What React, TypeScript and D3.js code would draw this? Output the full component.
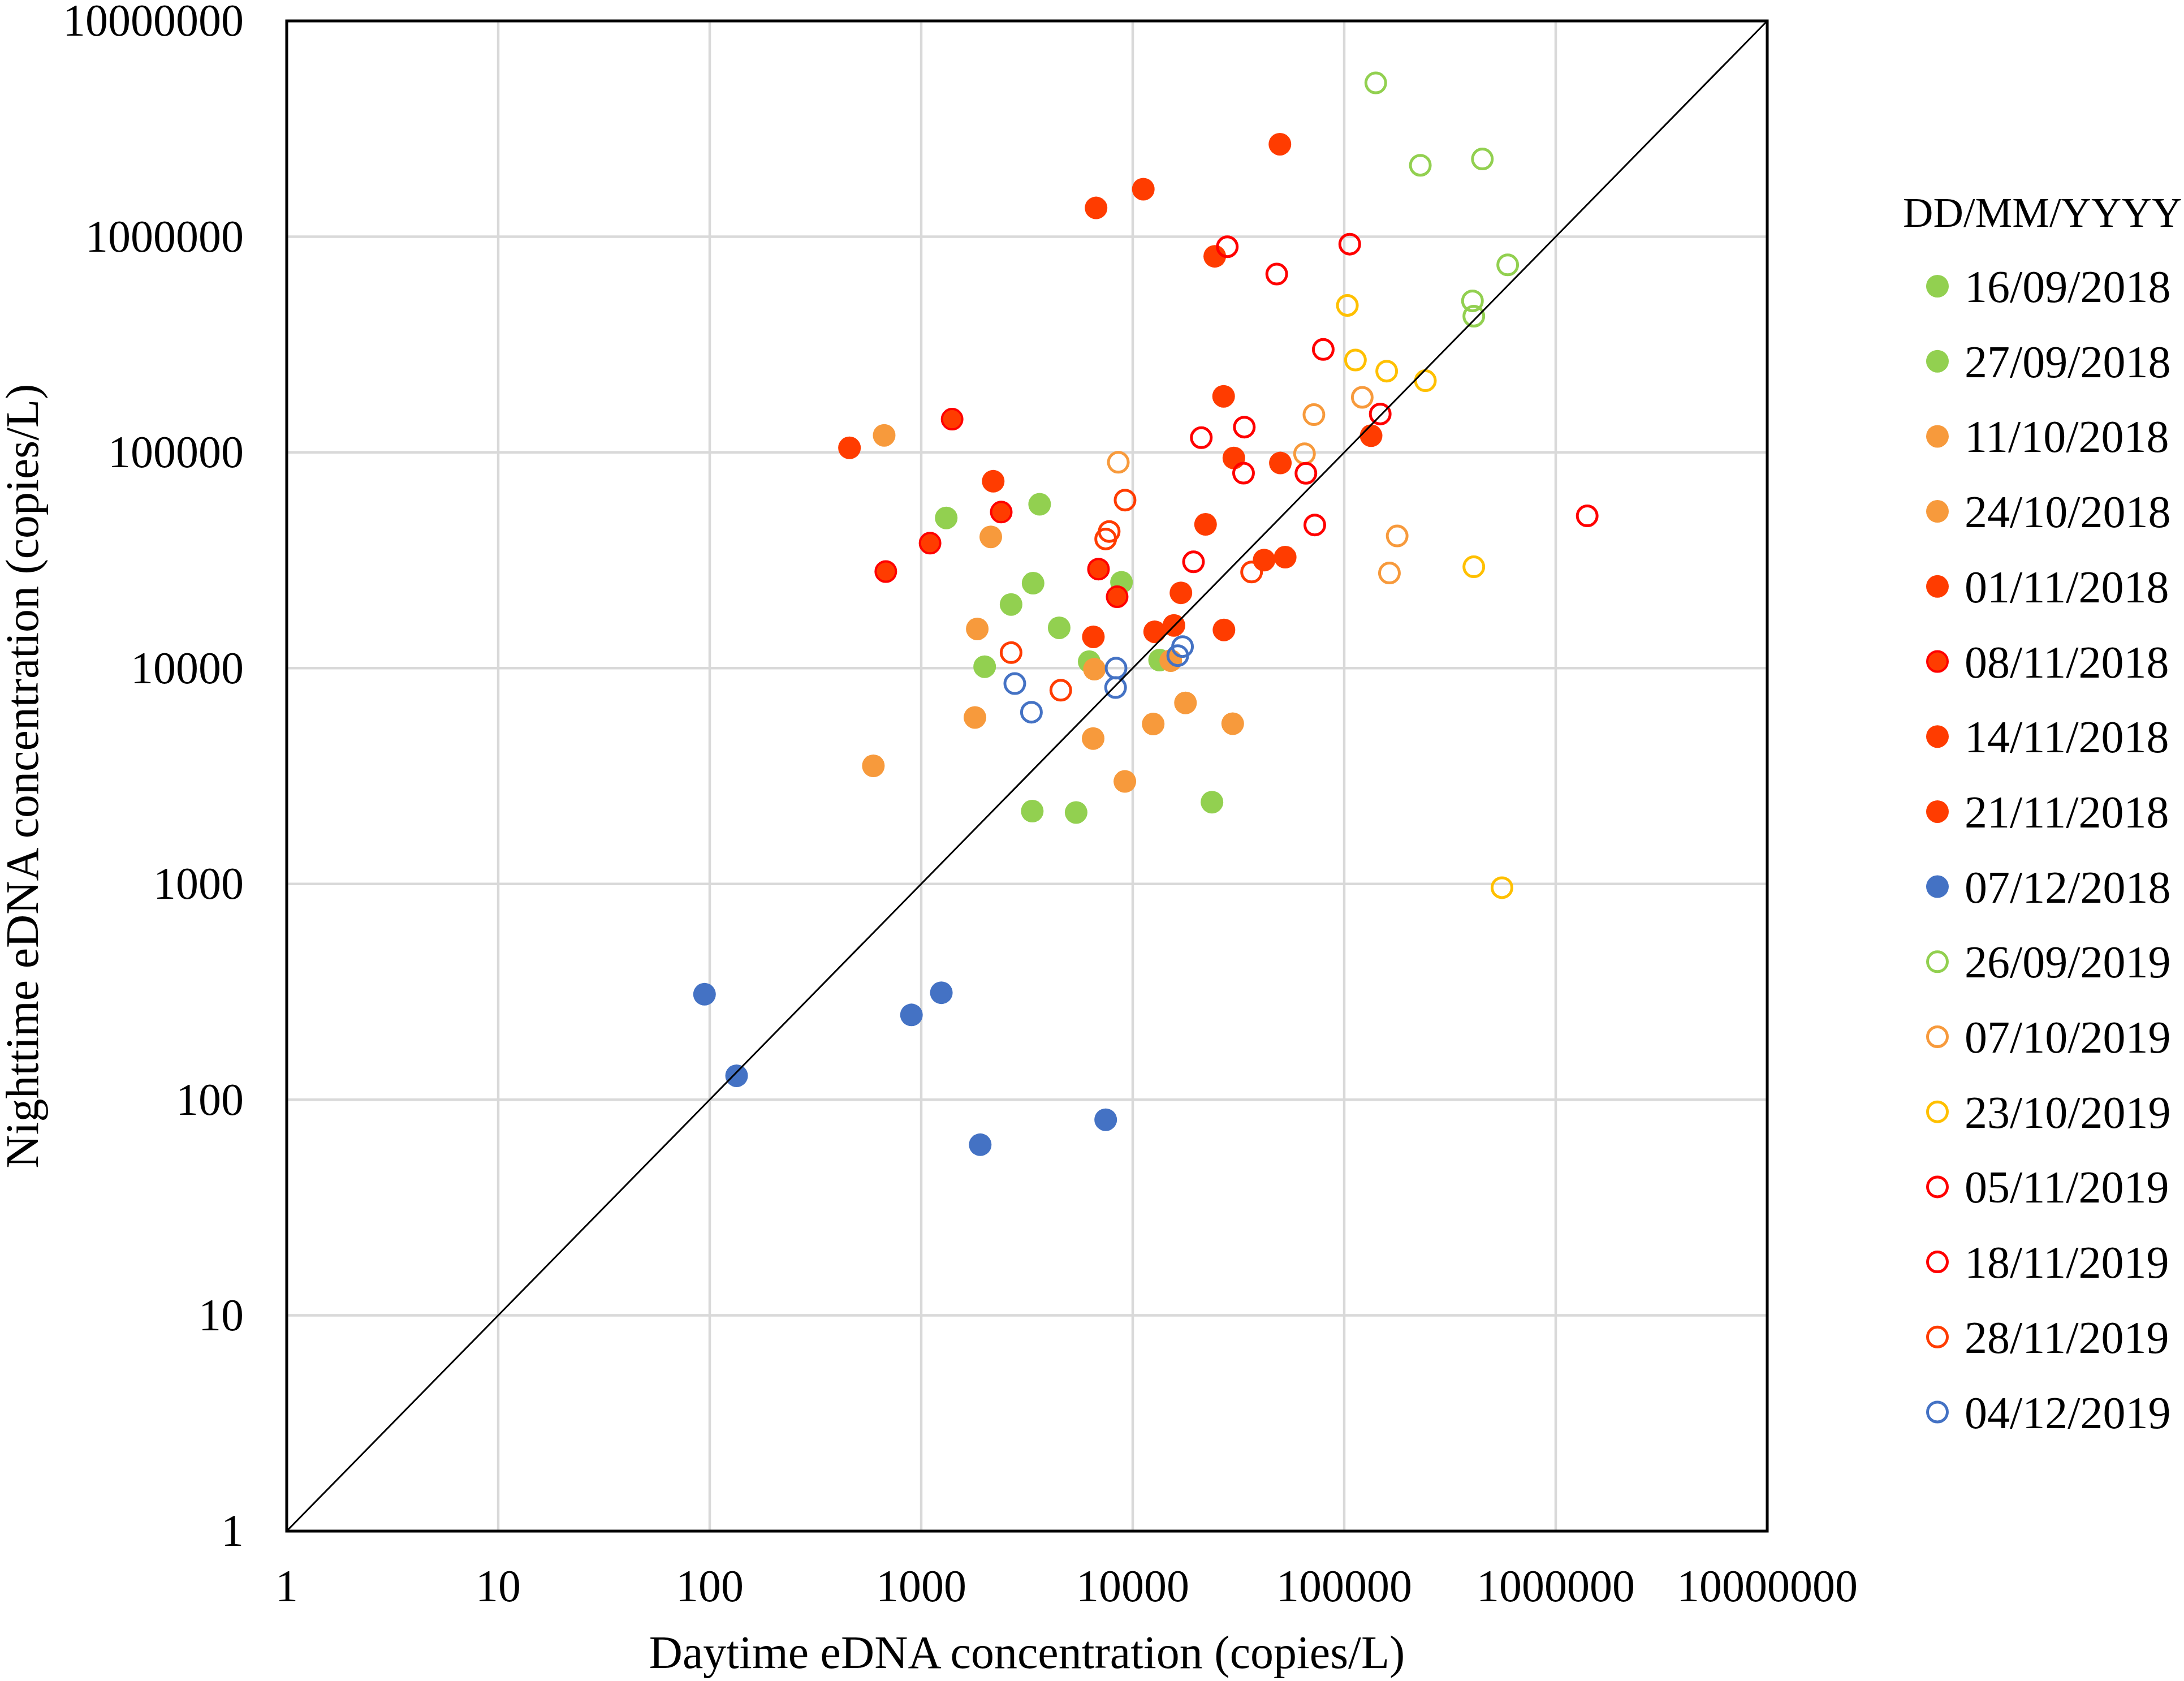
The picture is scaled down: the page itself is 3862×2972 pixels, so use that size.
import React from "react";
import * as d3 from "d3";

// ---------- DATA (daytime, nighttime) copies/L ----------
const legendTitle = "DD/MM/YYYY";
const tickValues = [1, 10, 100, 1000, 10000, 100000, 1000000, 10000000];

const d20180916: [number, number][] = [
  [3630, 57500], [1313, 49700], [3380, 24770], [2660, 19730], [8850, 25000], [4490, 15380],
];
const d20180927: [number, number][] = [
  [13400, 10900], [1995, 10160], [6226, 10720], [3350, 2174], [5400, 2143], [23700, 2393],
];
const d20181011: [number, number][] = [
  [668, 120000], [2133, 40600], [1841, 15200], [6590, 9890], [15130, 10840], [17760, 6900],
];
const d20181024: [number, number][] = [
  [1795, 5910], [594, 3525], [6500, 4720], [12500, 5510], [29700, 5530], [9180, 2985],
];
const d20181101: [number, number][] = [
  [458, 105000], [2190, 73500], [6516, 13970], [12700, 14750], [15660, 15780], [27000, 15040],
];
const d20181108: [number, number][] = [
  [1400, 142600], [2390, 52900], [1101, 37950], [680, 28040], [6890, 28770], [8440, 21430],
];
const d20181114: [number, number][] = [
  [16900, 22340], [22100, 46400], [41800, 31700], [52600, 32700], [30070, 94200], [49900, 89300],
];
const d20181121: [number, number][] = [
  [26900, 182000], [134000, 119500], [24430, 811000], [6710, 1359000], [11220, 1660000], [49650, 2683000],
];
const d20181207: [number, number][] = [
  [94.5, 308], [134, 129], [899, 247], [1245, 313], [1901, 61.8], [7450, 80.7],
];
const d20190926: [number, number][] = [
  [141000, 5160000], [229000, 2142000], [450000, 2291000], [593000, 740000], [404000, 504000], [410000, 428000],
];
const d20191007: [number, number][] = [
  [8550, 90000], [71900, 149700], [121700, 180000], [64900, 98600], [178000, 41000], [163600, 27600],
];
const d20191023: [number, number][] = [
  [103500, 480000], [113000, 268000], [158800, 238000], [242000, 215000], [410000, 29500], [557000, 960],
];
const d20191105: [number, number][] = [
  [28000, 898000], [106200, 923000], [47970, 671000], [79600, 300000], [33700, 131000], [21100, 117000],
];
const d20191118: [number, number][] = [
  [148000, 150700], [33420, 80100], [65900, 80000], [72600, 46100], [19380, 31100], [1409000, 50800],
];
const d20191128: [number, number][] = [
  [9200, 60100], [7740, 43000], [7450, 39700], [2660, 11800], [4570, 7900], [36480, 27900],
];
const d20191204: [number, number][] = [
  [8340, 10000], [8300, 8130], [2770, 8480], [3320, 6250], [17200, 12590], [16330, 11430],
];

// ---------- STYLE ----------
const GREEN = "#92D050";
const ORANGE = "#F79A3C";
const REDORANGE = "#FF3C00";
const RED = "#FF0000";
const BLUE = "#4472C4";
const YELLOW = "#FFC000";

type Series = { label: string; data: [number, number][]; fill: string; stroke: string; open: boolean };

const series: Series[] = [
  { label: "16/09/2018", data: d20180916, fill: GREEN, stroke: "none", open: false },
  { label: "27/09/2018", data: d20180927, fill: GREEN, stroke: "none", open: false },
  { label: "11/10/2018", data: d20181011, fill: ORANGE, stroke: "none", open: false },
  { label: "24/10/2018", data: d20181024, fill: ORANGE, stroke: "none", open: false },
  { label: "01/11/2018", data: d20181101, fill: REDORANGE, stroke: "none", open: false },
  { label: "08/11/2018", data: d20181108, fill: REDORANGE, stroke: RED, open: false },
  { label: "14/11/2018", data: d20181114, fill: REDORANGE, stroke: "none", open: false },
  { label: "21/11/2018", data: d20181121, fill: REDORANGE, stroke: "none", open: false },
  { label: "07/12/2018", data: d20181207, fill: BLUE, stroke: "none", open: false },
  { label: "26/09/2019", data: d20190926, fill: "none", stroke: GREEN, open: true },
  { label: "07/10/2019", data: d20191007, fill: "none", stroke: ORANGE, open: true },
  { label: "23/10/2019", data: d20191023, fill: "none", stroke: YELLOW, open: true },
  { label: "05/11/2019", data: d20191105, fill: "none", stroke: RED, open: true },
  { label: "18/11/2019", data: d20191118, fill: "none", stroke: RED, open: true },
  { label: "28/11/2019", data: d20191128, fill: "none", stroke: REDORANGE, open: true },
  { label: "04/12/2019", data: d20191204, fill: "none", stroke: BLUE, open: true },
];

const W = 3862;
const H = 2972;
const PL = 507, PR = 3125, PT = 37, PB = 2707;
const FONT = "'Liberation Serif', 'Times New Roman', serif";

export default function App() {
  const x = d3.scaleLog().domain([1, 1e7]).range([PL, PR]);
  const y = d3.scaleLog().domain([1, 1e7]).range([PB, PT]);

  const marker = (s: Series, cx: number, cy: number, key: string | number) => {
    if (s.open) {
      return <circle key={key} cx={cx} cy={cy} r={17.5} fill="#fff" fillOpacity={0} stroke={s.stroke} strokeWidth={5} />;
    }
    if (s.stroke !== "none") {
      return <circle key={key} cx={cx} cy={cy} r={18} fill={s.fill} stroke={s.stroke} strokeWidth={4} />;
    }
    return <circle key={key} cx={cx} cy={cy} r={20} fill={s.fill} />;
  };

  const legX = 3426;
  const legTextX = 3474;
  const legY0 = 506;
  const legDy = 132.7;

  return (
    <svg width={W} height={H} viewBox={`0 0 ${W} ${H}`} style={{ position: "absolute", left: 0, top: 0, background: "#fff" }} fontFamily={FONT}>
      <rect x={0} y={0} width={W} height={H} fill="#fff" />
      {/* gridlines */}
      {tickValues.map((t) => (
        <line key={`gx${t}`} x1={x(t)} x2={x(t)} y1={PT} y2={PB} stroke="#D9D9D9" strokeWidth={4.5} />
      ))}
      {tickValues.map((t) => (
        <line key={`gy${t}`} x1={PL} x2={PR} y1={y(t)} y2={y(t)} stroke="#D9D9D9" strokeWidth={4.5} />
      ))}
      {/* points */}
      {series.map((s, si) => (
        <g key={s.label}>{s.data.map((d, i) => marker(s, x(d[0]), y(d[1]), `${si}-${i}`))}</g>
      ))}
      {/* 1:1 line */}
      <line x1={x(1)} y1={y(1)} x2={x(1e7)} y2={y(1e7)} stroke="#000" strokeWidth={3} />
      {/* frame */}
      <rect x={PL} y={PT} width={PR - PL} height={PB - PT} fill="none" stroke="#000" strokeWidth={5} />
      {/* tick labels */}
      {tickValues.map((t) => (
        <text key={`tx${t}`} x={x(t)} y={2803} dy="0.35em" textAnchor="middle" fontSize={80} fill="#000">
          {String(t)}
        </text>
      ))}
      {tickValues.map((t) => (
        <text key={`ty${t}`} x={431} y={y(t)} dy="0.33em" textAnchor="end" fontSize={80} fill="#000">
          {String(t)}
        </text>
      ))}
      {/* axis titles */}
      <text x={(PL + PR) / 2} y={2920} dy="0.35em" textAnchor="middle" fontSize={82} fill="#000">
        Daytime eDNA concentration (copies/L)
      </text>
      <text transform={`translate(38, ${(PT + PB) / 2}) rotate(-90)`} dy="0.35em" textAnchor="middle" fontSize={82} fill="#000">
        Nighttime eDNA concentration (copies/L)
      </text>
      {/* legend */}
      <text x={3365} y={375} dy="0.35em" fontSize={74} fill="#000">{legendTitle}</text>
      {series.map((s, i) => (
        <g key={`lg${s.label}`}>
          {marker(s, legX, legY0 + i * legDy, `lm${i}`)}
          <text x={legTextX} y={legY0 + i * legDy} dy="0.35em" fontSize={80} fill="#000">{s.label}</text>
        </g>
      ))}
    </svg>
  );
}
